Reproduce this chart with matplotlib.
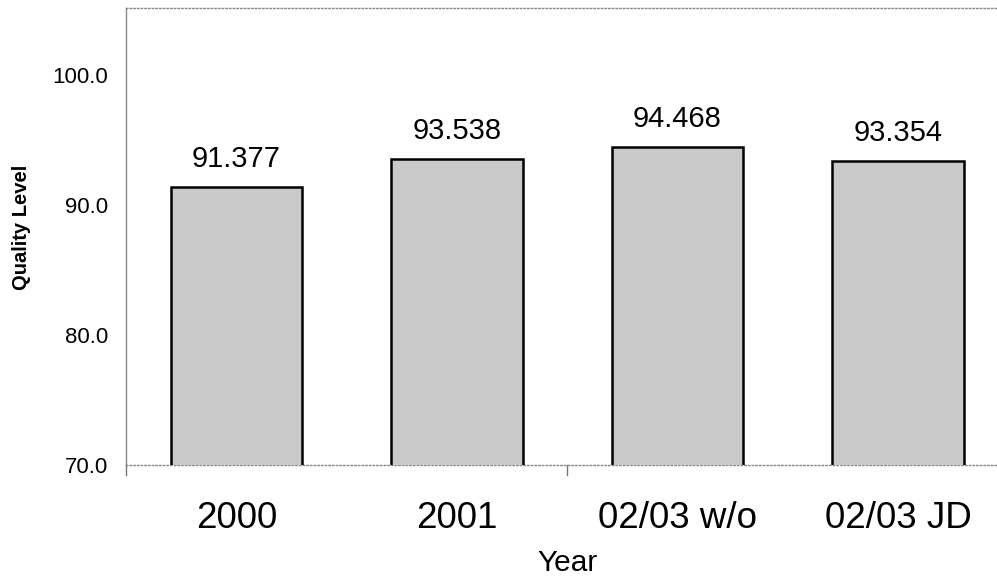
import matplotlib
matplotlib.use("Agg")
import matplotlib.pyplot as plt

plt.rcParams["font.family"] = ["Liberation Sans", "DejaVu Sans"]

# values
categories = ["2000", "2001", "02/03 w/o", "02/03 JD"]
quality = [91.377, 93.538, 94.468, 93.354]
yticks = [70.0, 80.0, 90.0, 100.0]

fig = plt.figure(figsize=(9.97, 5.81), dpi=100)
# plot area runs a little past the right edge of the image, as in the original
ax = fig.add_axes([0.1264, 0.1997, 0.885, 0.7865])

x = range(len(categories))
ax.bar(x, quality, width=0.595, color="#c9c9c9", edgecolor="black",
       linewidth=1.8, zorder=3)

for xi, v in zip(x, quality):
    ax.annotate(f"{v:.3f}", xy=(xi, v), xytext=(0, 14.5),
                textcoords="offset points", ha="center", va="baseline",
                fontsize=21)

ax.set_ylim(70, 105.15)
ax.set_xlim(-0.5, len(categories) - 0.5)
ax.set_yticks(yticks)
ax.set_yticklabels([f"{t:.1f}" for t in yticks], fontsize=16)
ax.set_xticks(list(x))
ax.set_xticklabels(categories, fontsize=26.5)
ax.tick_params(axis="x", length=0, pad=26)
ax.tick_params(axis="y", length=0, pad=13)

# short ticks below the axis: left edge and the middle divider
for b in [-0.5, 1.5]:
    ax.plot([b, b], [70, 69.2], color="#777777", lw=1.0, clip_on=False)

for side in ["left", "top", "bottom"]:
    ax.spines[side].set_color("#888888")
    ax.spines[side].set_linewidth(1.0)
ax.spines["top"].set_linestyle(":")
ax.spines["bottom"].set_linestyle(":")
ax.spines["right"].set_visible(False)

ax.set_ylabel("Quality Level", fontsize=14.5, fontweight="bold", labelpad=16)
ax.yaxis.set_label_coords(-0.108, 0.52)
ax.set_xlabel("Year", fontsize=21.5, labelpad=9)

fig.savefig("out.png", dpi=100)
